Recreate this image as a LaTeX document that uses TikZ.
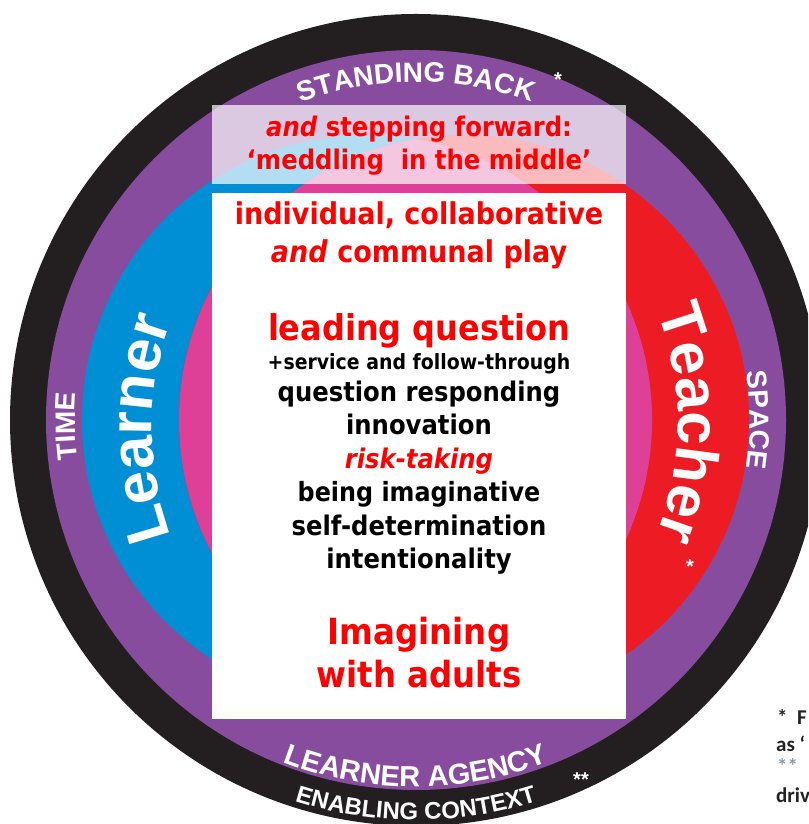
\documentclass[tikz,border=0pt]{standalone}
\usepackage{fontspec}
\setmainfont{DejaVu Sans}[FakeStretch=0.9]
\newfontfamily\ringfont{Liberation Sans}
\newfontfamily\notefont{Carlito}
\usepackage{tikz}
\usetikzlibrary{decorations.text}
\definecolor{ringblack}{RGB}{35,31,32}
\definecolor{ringpurple}{RGB}{136,76,158}
\definecolor{learnerblue}{RGB}{0,143,213}
\definecolor{teacherred}{RGB}{237,28,36}
\definecolor{overlappink}{RGB}{222,64,152}
\definecolor{playred}{RGB}{255,0,0}
\definecolor{notegrey}{RGB}{34,34,34}
\definecolor{notestar}{RGB}{140,150,170}

\tikzset{
  ringlabel/.style n args={2}{decorate, decoration={text along path, text align=center,
      text color=white, text={|\ringfont\bfseries\fontsize{#1}{#1}\selectfont|#2}}},
  redline/.style={anchor=base, text=playred, font=\bfseries\fontsize{#1}{#1}\selectfont},
  blackline/.style={anchor=base, text=black, font=\bfseries\fontsize{#1}{#1}\selectfont},
  starmark/.style={text=white, font=\ringfont\bfseries\fontsize{20}{20}\selectfont},
  noteline/.style={anchor=base west, text=notegrey, inner sep=0pt, font=\notefont\bfseries\fontsize{21}{21}\selectfont}
}

\begin{document}
\begin{tikzpicture}[x=1pt,y=1pt]
  \clip (0,0) rectangle (808,824);
  % rings
  \fill[ringblack] (416,404) circle[radius=406];
  \fill[ringpurple] (416,404) circle[radius=370];
  \fill[learnerblue] (367,404) circle[radius=285];
  \fill[teacherred] (464,404) circle[radius=285];
  \begin{scope}
    \clip (367,404) circle[radius=285];
    \fill[overlappink] (464,404) circle[radius=285];
  \end{scope}

  % labels round the rings
  \path[ringlabel={28}{STANDING BACK}] (416,404) ++(120:338) arc[start angle=120, end angle=60, radius=338];
  \path[ringlabel={28}{TIME}] (416,404) ++(201:341) arc[start angle=201, end angle=161, radius=341];
  \path[ringlabel={28}{SPACE}] (416,404) ++(20:334) arc[start angle=20, end angle=-20, radius=334];
  \path[ringlabel={29}{LEARNER AGENCY}] (416,404) ++(240:367) arc[start angle=240, end angle=300, radius=367];
  \path[ringlabel={24}{ENABLING CONTEXT}] (416,404) ++(245:400) arc[start angle=245, end angle=295, radius=400];
  \path[ringlabel={60}{Learner}] (464,395) ++(205:312) arc[start angle=205, end angle=155, radius=312];
  \path[ringlabel={60}{Teacher}] (368,401) ++(25:310) arc[start angle=25, end angle=-25, radius=310];
  \node[starmark] (starback) at (558,744) {*};
  \node[starmark] (starteach) at (690,257) {*};
  \node[starmark] (starcontext) at (581,44) {**};

  % the middle panel
  \fill[white, opacity=0.7] (212,640) rectangle (626,719);
  \fill[white] (212,105) rectangle (626,631);
  \node[redline=27] (forward) at (419,687) {\textit{and} stepping forward:};
  \node[redline=27] (meddle) at (419,654) {‘meddling\ \ in the middle’};
  \node[redline=30] (play) at (419,599) {individual, collaborative};
  \node[redline=30] (communal) at (419,561) {\textit{and} communal play};
  \node[redline=35.5] (leading) at (419,483) {leading question};
  \node[blackline=21] (service) at (419,454) {+service and follow-through};
  \node[blackline=27] (responding) at (419,422) {question responding};
  \node[blackline=27] (innovation) at (419,389) {innovation};
  \node[redline=27] (risk) at (419,355) {\textit{risk-taking}};
  \node[blackline=26.5] (imaginative) at (419,322) {being imaginative};
  \node[blackline=27] (selfdet) at (419,288) {self-determination};
  \node[blackline=27] (intent) at (419,255) {intentionality};
  \node[redline=36] (imagining) at (419,179) {Imagining};
  \node[redline=36] (adults) at (419,136) {with adults};

  % footnotes at the edge
  \node[noteline] (noteone) at (777,99) {*\ \ F};
  \node[noteline] (notetwo) at (776,72) {as ‘};
  \node[noteline, text=notestar] (notethree) at (777,50) {**};
  \node[noteline] (notefour) at (776,21) {driv};
\end{tikzpicture}
\end{document}
